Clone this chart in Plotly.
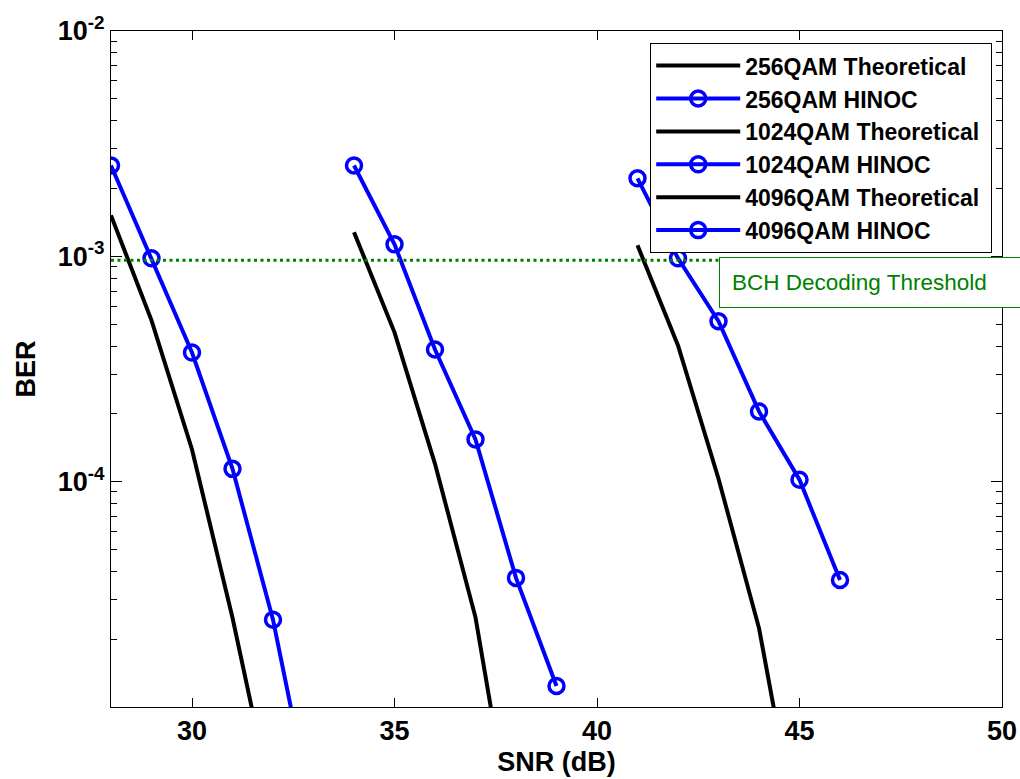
import plotly.graph_objects as go

# ---- data ----
snr_256_th = [28, 29, 30, 31, 32]
ber_256_th = [1.52e-3, 5.2e-4, 1.39e-4, 2.49e-5, 3.6e-6]
snr_256_hinoc = [28, 29, 30, 31, 32, 33]
ber_256_hinoc = [2.53e-3, 9.8e-4, 3.74e-4, 1.14e-4, 2.44e-5, 3.2e-6]

snr_1024_th = [34, 35, 36, 37, 38]
ber_1024_th = [1.28e-3, 4.6e-4, 1.2e-4, 2.5e-5, 2.2e-6]
snr_1024_hinoc = [34, 35, 36, 37, 38, 39]
ber_1024_hinoc = [2.53e-3, 1.13e-3, 3.86e-4, 1.54e-4, 3.74e-5, 1.24e-5]

snr_4096_th = [41, 42, 43, 44, 45]
ber_4096_th = [1.12e-3, 4.02e-4, 1.03e-4, 2.24e-5, 2.4e-6]
snr_4096_hinoc = [41, 42, 43, 44, 45, 46]
ber_4096_hinoc = [2.22e-3, 9.8e-4, 5.15e-4, 2.05e-4, 1.02e-4, 3.66e-5]

threshold_snr = [28, 49.5]
threshold_ber = [9.6e-4, 9.6e-4]

x_ticks = [30, 35, 40, 45, 50]
y_major = [1e-4, 1e-3, 1e-2]
y_major_text = ["10<sup>-4</sup>", "10<sup>-3</sup>", "10<sup>-2</sup>"]
y_minor = [m * 10.0 ** e for e in (-5, -4, -3) for m in range(2, 10)]

series = [
    ("256QAM Theoretical", snr_256_th, ber_256_th, False),
    ("256QAM HINOC", snr_256_hinoc, ber_256_hinoc, True),
    ("1024QAM Theoretical", snr_1024_th, ber_1024_th, False),
    ("1024QAM HINOC", snr_1024_hinoc, ber_1024_hinoc, True),
    ("4096QAM Theoretical", snr_4096_th, ber_4096_th, False),
    ("4096QAM HINOC", snr_4096_hinoc, ber_4096_hinoc, True),
]

FONT = "Arial, Liberation Sans, sans-serif"

fig = go.Figure()
for i, (name, xs, ys, hinoc) in enumerate(series):
    label = name + "\u00a0"
    if hinoc:
        fig.add_trace(go.Scatter(
            x=xs, y=ys, name=label, mode="lines+markers",
            line=dict(color="#0000FF", width=4),
            marker=dict(symbol="circle-open", size=15, color="#0000FF",
                        line=dict(width=3.5, color="#0000FF")),
        ))
    else:
        fig.add_trace(go.Scatter(
            x=xs, y=ys, name=label, mode="lines",
            line=dict(color="#000000", width=4),
        ))

fig.add_trace(go.Scatter(
    x=threshold_snr, y=threshold_ber, mode="lines", showlegend=False,
    line=dict(color="#008000", width=3, dash="3px,3.5px"),
))

fig.add_annotation(
    x=43.0, y=-3.003, xref="x", yref="y", xanchor="left", yanchor="top",
    text="BCH Decoding Threshold", showarrow=False, align="left",
    width=330, font=dict(family=FONT, size=22.5, color="#008000"),
    bordercolor="#008000", borderwidth=1, borderpad=12, bgcolor="white",
)

fig.update_layout(
    width=1020, height=779,
    margin=dict(l=111, r=18, t=31, b=72),
    paper_bgcolor="white", plot_bgcolor="white",
    font=dict(family=FONT, color="black"),
    legend=dict(
        x=0.989, y=0.982, xanchor="right", yanchor="top",
        bgcolor="white", bordercolor="black", borderwidth=1,
        font=dict(family=FONT, size=23, weight="bold", color="black"),
        itemwidth=84,
    ),
)

fig.update_xaxes(
    range=[28, 50], tickvals=x_ticks, ticks="inside", ticklen=9,
    tickcolor="black", showline=True, linecolor="black", linewidth=1,
    mirror="ticks", showgrid=False, zeroline=False, automargin=False,
    tickfont=dict(family=FONT, size=27, weight="bold"),
    ticklabelstandoff=0,
    title=dict(text="SNR (dB)", font=dict(family=FONT, size=27, weight="bold"), standoff=6),
)
fig.update_yaxes(
    type="log", range=[-5, -2], tickvals=y_major, ticktext=y_major_text,
    ticks="inside", ticklen=11, tickcolor="black",
    minor=dict(tickvals=y_minor, ticks="inside", ticklen=6, tickcolor="black", showgrid=False),
    showline=True, linecolor="black", linewidth=1, mirror="ticks",
    showgrid=False, zeroline=False, automargin=False,
    tickfont=dict(family=FONT, size=27, weight="bold"),
    title=dict(text="BER", font=dict(family=FONT, size=27, weight="bold"), standoff=14),
)

fig.write_html(
    "out.html",
    config={"displayModeBar": False},
    post_script="document.body.style.margin='0';document.body.style.overflow='hidden';",
)
